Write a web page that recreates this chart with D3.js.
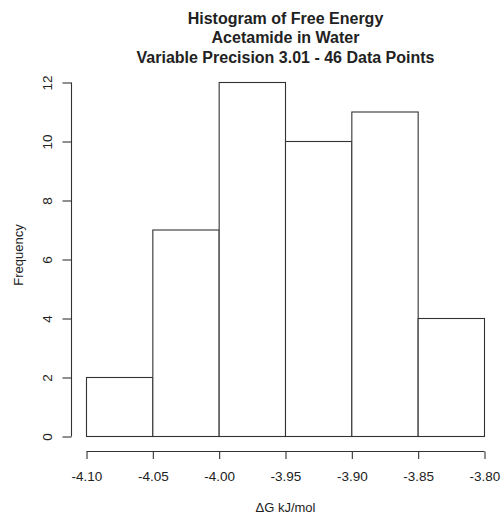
<!DOCTYPE html>
<html>
<head>
<meta charset="utf-8">
<script src="https://cdn.jsdelivr.net/npm/d3@7"></script>
<style>
  html, body { margin: 0; padding: 0; background: #fff; }
  svg { display: block; }
  text { font-family: "Liberation Sans", Arial, sans-serif; fill: #222; }
</style>
</head>
<body>
<svg id="chart" width="503" height="515"></svg>
<script>
// Histogram bins (lower/upper edges, kJ/mol) and counts
const binStarts = [-4.10, -4.05, -4.00, -3.95, -3.90, -3.85];
const binEnds   = [-4.05, -4.00, -3.95, -3.90, -3.85, -3.80];
const counts    = [2, 7, 12, 10, 11, 4];
const xTicks = [-4.10, -4.05, -4.00, -3.95, -3.90, -3.85, -3.80];
const yTicks = [0, 2, 4, 6, 8, 10, 12];
const titleLines = [
  "Histogram of Free Energy",
  "Acetamide in Water",
  "Variable Precision 3.01 - 46 Data Points"
];

const svg = d3.select("#chart");
const x = d3.scaleLinear().domain([-4.10, -3.80]).range([86.5, 484.5]);
const y = d3.scaleLinear().domain([0, 12]).range([436.5, 82.5]);

// Bars
svg.append("g").selectAll("rect")
  .data(counts)
  .join("rect")
  .attr("x", (d, i) => x(binStarts[i]))
  .attr("width", (d, i) => x(binEnds[i]) - x(binStarts[i]))
  .attr("y", d => y(d))
  .attr("height", d => y(0) - y(d))
  .attr("fill", "#fff")
  .attr("stroke", "#333")
  .attr("stroke-width", 1.1);

// X axis, offset below the bars
const xAxis = svg.append("g")
  .attr("transform", "translate(0,451.5)")
  .call(d3.axisBottom(x).tickValues(xTicks).tickFormat(d => d.toFixed(2))
    .tickSize(7.5).tickSizeOuter(0).tickPadding(12));
xAxis.select(".domain").attr("d", `M${x(-4.10)},0H${x(-3.80)}`);
xAxis.selectAll("line, path").attr("stroke", "#333").attr("stroke-width", 1.1);
xAxis.selectAll("text").attr("font-size", 13.5)
  .attr("font-family", "Liberation Sans, Arial, sans-serif").attr("fill", "#222");

// Y axis with labels rotated parallel to the axis
const yAxis = svg.append("g")
  .attr("transform", "translate(71.5,0)")
  .call(d3.axisLeft(y).tickValues(yTicks).tickSize(9).tickSizeOuter(0).tickPadding(0));
yAxis.select(".domain").attr("d", `M0,${y(0)}V${y(12)}`);
yAxis.selectAll("line, path").attr("stroke", "#333").attr("stroke-width", 1.1);
yAxis.selectAll("text")
  .attr("font-size", 13.5)
  .attr("font-family", "Liberation Sans, Arial, sans-serif")
  .attr("fill", "#222")
  .attr("x", 0).attr("y", 0).attr("dy", 0)
  .attr("text-anchor", "middle")
  .attr("transform", "translate(-19.5,0) rotate(-90)");

// Axis titles
svg.append("text")
  .attr("x", 285.5).attr("y", 512)
  .attr("text-anchor", "middle")
  .attr("font-size", 13)
  .text("\u0394G kJ/mol");

svg.append("text")
  .attr("transform", "translate(23,255) rotate(-90)")
  .attr("text-anchor", "middle")
  .attr("font-size", 13)
  .text("Frequency");

// Title block
svg.append("g").selectAll("text")
  .data(titleLines)
  .join("text")
  .attr("x", 285.5)
  .attr("y", (d, i) => 23.5 + i * 19.7)
  .attr("text-anchor", "middle")
  .attr("font-size", 16)
  .attr("font-weight", "bold")
  .text(d => d);
</script>
</body>
</html>
